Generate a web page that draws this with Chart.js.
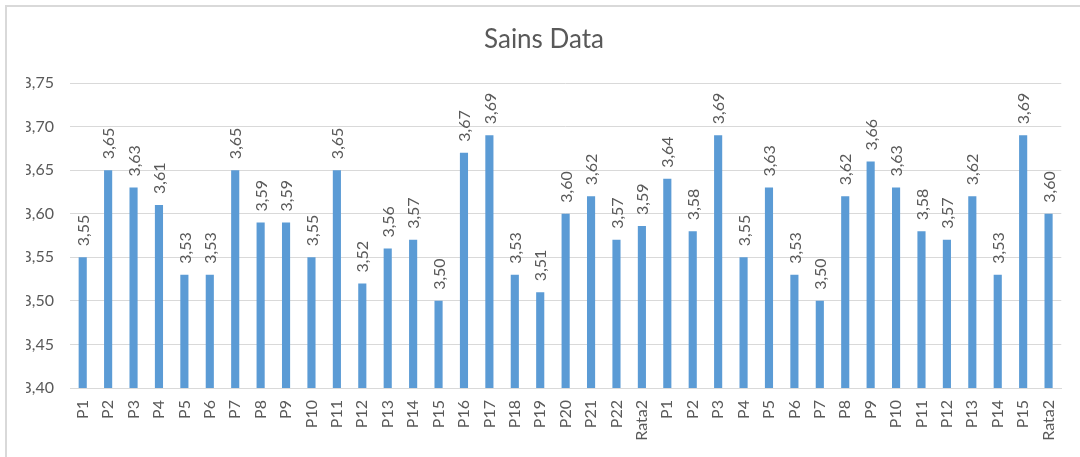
<!DOCTYPE html>
<html>
<head>
<meta charset="utf-8">
<script src="https://cdn.jsdelivr.net/npm/chart.js@4/dist/chart.umd.min.js"></script>
<style>
  html, body { margin: 0; padding: 0; background: #fff; overflow: hidden; }
  #frame {
    position: absolute; left: 5px; top: 5px;
    width: 1200px; height: 600px;
    border-left: 2px solid #d9d9d9; border-top: 2px solid #d9d9d9;
  }
  #chart { position: absolute; left: 0; top: 0; }
</style>
</head>
<body>
<div id="frame"></div>
<canvas id="chart" width="1080" height="457"></canvas>
<script>
// ── DATA ──────────────────────────────────
const categories = [
  'P1', 'P2', 'P3', 'P4', 'P5', 'P6', 'P7', 'P8', 'P9', 'P10', 'P11',
  'P12', 'P13', 'P14', 'P15', 'P16', 'P17', 'P18', 'P19', 'P20', 'P21', 'P22',
  'Rata2',
  'P1', 'P2', 'P3', 'P4', 'P5', 'P6', 'P7', 'P8', 'P9', 'P10', 'P11',
  'P12', 'P13', 'P14', 'P15',
  'Rata2'
];

const values = [
  3.55, 3.65, 3.63, 3.61, 3.53, 3.53, 3.65, 3.59, 3.59, 3.55, 3.65,
  3.52, 3.56, 3.57, 3.50, 3.67, 3.69, 3.53, 3.51, 3.60, 3.62, 3.57,
  3.586,
  3.64, 3.58, 3.69, 3.55, 3.63, 3.53, 3.50, 3.62, 3.66, 3.63, 3.58,
  3.57, 3.62, 3.53, 3.69,
  3.60
];

const yMin = 3.40;
const yMax = 3.75;
const yStep = 0.05;

const textColor = '#595959';
const gridColor = '#d9d9d9';
const barColor = '#5b9bd5';
const fontFamily = 'Lato, "Open Sans", sans-serif';

const fmt = v => Number(v).toFixed(2).replace('.', ',');

// ── VALUE LABELS (rotated, outside end) ───
const valueLabels = {
  id: 'valueLabels',
  afterDatasetsDraw(chart) {
    const ctx = chart.ctx;
    const meta = chart.getDatasetMeta(0);
    ctx.save();
    ctx.fillStyle = textColor;
    ctx.font = '16px ' + fontFamily;
    ctx.textAlign = 'left';
    ctx.textBaseline = 'middle';
    meta.data.forEach((bar, i) => {
      ctx.save();
      ctx.translate(bar.x + 1, bar.y - 11);
      ctx.rotate(-Math.PI / 2);
      ctx.fillText(fmt(values[i]), 0, 0);
      ctx.restore();
    });
    ctx.restore();
  }
};

new Chart(document.getElementById('chart'), {
  type: 'bar',
  data: {
    labels: categories,
    datasets: [{
      data: values,
      backgroundColor: barColor,
      borderWidth: 0,
      barPercentage: 0.32,
      categoryPercentage: 1
    }]
  },
  plugins: [valueLabels],
  options: {
    responsive: false,
    animation: false,
    events: [],
    // left padding nudges the title centre to match the reference
    layout: { padding: { top: 0, left: 26, right: 18, bottom: 0 } },
    plugins: {
      legend: { display: false },
      tooltip: { enabled: false },
      title: {
        display: true,
        text: 'Sains Data',
        color: textColor,
        font: { family: fontFamily, size: 26, weight: 'normal', lineHeight: 1.2 },
        padding: { top: 24, bottom: 27.8 }
      }
    },
    scales: {
      x: {
        grid: { display: false, drawTicks: false },
        border: { display: true, color: gridColor, width: 1 },
        ticks: {
          color: textColor,
          font: { family: fontFamily, size: 16 },
          minRotation: 90,
          maxRotation: 90,
          autoSkip: false,
          padding: 12
        },
        afterFit(scale) { scale.height = 69; }
      },
      y: {
        min: yMin,
        max: yMax,
        grid: { color: gridColor, lineWidth: 1, drawTicks: false },
        border: { display: false },
        ticks: {
          stepSize: yStep,
          color: textColor,
          font: { family: fontFamily, size: 16 },
          padding: 16,
          callback: v => fmt(v)
        },
        afterFit(scale) { scale.width = 44; }
      }
    }
  }
});
</script>
</body>
</html>
